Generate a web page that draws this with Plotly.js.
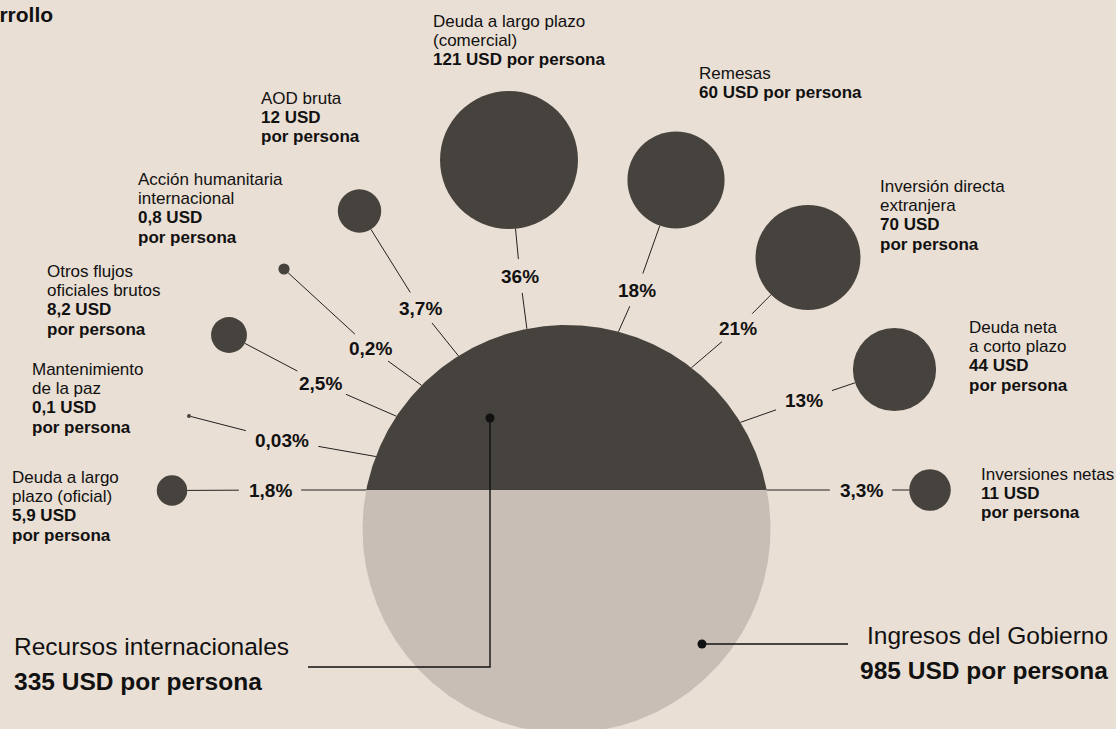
<!DOCTYPE html>
<html><head><meta charset="utf-8">
<script src="https://cdn.plot.ly/plotly-3.0.1.min.js"></script>
<style>html,body{margin:0;padding:0;background:#eadfd4;} #chart{width:1116px;height:729px;}</style>
</head><body><div id="chart"></div>
<script>
// ---------------- DATA ----------------
const flowNames = ['Deuda a largo|plazo (oficial)', 'Mantenimiento|de la paz', 'Otros flujos|oficiales brutos',
  'Acción humanitaria|internacional', 'AOD bruta', 'Deuda a largo plazo|(comercial)', 'Remesas',
  'Inversión directa|extranjera', 'Deuda neta|a corto plazo', 'Inversiones netas'];
const flowValues = [5.9, 0.1, 8.2, 0.8, 12, 121, 60, 70, 44, 11];          // USD por persona
const flowShares = ['1,8%', '0,03%', '2,5%', '0,2%', '3,7%', '36%', '18%', '21%', '13%', '3,3%'];
const totalNames = ['Recursos internacionales', 'Ingresos del Gobierno'];
const totalValues = [335, 985];                                             // USD por persona
const unitText = 'USD';
const perText = 'por persona';
const titleText = 'para el desarrollo';

// ---------------- LAYOUT / STYLE ----------------
const W = 1116, H = 729;
const FONT = '"Liberation Sans", Arial, sans-serif';
const BG = '#eadfd4', DARK = '#46423d', LIGHT = '#c9beb5', INK = '#111111', LINE = '#242120';
const satScale = 6.27;                      // px radius per sqrt(USD)
const bigScale = 5.615;                     // px radius per sqrt(USD) of big circle
const bigCenter = [566.5, 529];
const splitOffset = 39;
const hubs = [[566, 490], [548, 490]];
const placement = [
  {sat: [172, 490.5], pct: [270, 490], hub: 0, tx: 11,  ty: 483, wrap: true},
  {sat: [189, 416],   pct: [282, 440], hub: 0, tx: 31,  ty: 375, wrap: true},
  {sat: [229, 335],   pct: [320, 383], hub: 0, tx: 46,  ty: 277, wrap: true},
  {sat: [284, 269],   pct: [370, 348], hub: 0, tx: 137, ty: 185, wrap: true},
  {sat: [359.5, 211], pct: [420, 308], hub: 0, tx: 260, ty: 104, wrap: true},
  {sat: [509, 160],   pct: [520, 276], hub: 1, tx: 432, ty: 27,  wrap: false},
  {sat: [676, 180],   pct: [637, 290], hub: 1, tx: 698, ty: 79,  wrap: false},
  {sat: [808, 257.5], pct: [738, 328], hub: 1, tx: 879, ty: 192, wrap: true},
  {sat: [894.5, 369.5], pct: [804, 400], hub: 1, tx: 968, ty: 333, wrap: true},
  {sat: [930, 490],   pct: [861, 490], hub: 1, tx: 980, ty: 480, wrap: true}
];
const LBL = 17, PCT = 19, BIG = 24.5, LINEGAP = 19.4;
const recDot = [490, 418], recElbow = [667, 308];
const ingDot = [702, 644], ingEnd = 848;

// ---------------- HELPERS ----------------
const ctx = document.createElement('canvas').getContext('2d');
function textW(s, size, bold) { ctx.font = (bold ? 'bold ' : '') + size + 'px "Liberation Sans"'; return ctx.measureText(s).width; }
const fmt = v => String(v).replace('.', ',');
const unit = (a, b) => { const dx = b[0] - a[0], dy = b[1] - a[1], d = Math.hypot(dx, dy); return [dx / d, dy / d]; };
const baseY = (baseline, fs) => baseline - 0.347 * fs;

const R = bigScale * Math.sqrt(totalValues[0] + totalValues[1]);
const splitY = bigCenter[1] - splitOffset;

// big circle segments
function arc(t0, t1, n) {
  const xs = [], ys = [];
  for (let i = 0; i <= n; i++) {
    const t = t0 + (t1 - t0) * i / n;
    xs.push(bigCenter[0] + R * Math.cos(t)); ys.push(bigCenter[1] - R * Math.sin(t));
  }
  xs.push(xs[0]); ys.push(ys[0]);
  return {xs, ys};
}
const th0 = Math.asin(splitOffset / R);
const darkSeg = arc(th0, Math.PI - th0, 300);
const lightSeg = arc(Math.PI - th0, 2 * Math.PI + th0, 400);

const traces = [];
traces.push({x: lightSeg.xs, y: lightSeg.ys, mode: 'lines', fill: 'toself', fillcolor: LIGHT, line: {width: 0}, hoverinfo: 'skip'});
traces.push({x: darkSeg.xs, y: darkSeg.ys, mode: 'lines', fill: 'toself', fillcolor: DARK, line: {width: 0}, hoverinfo: 'skip'});

// connectors
const lx = [], ly = [];
placement.forEach((p, i) => {
  const L = p.pct, S = p.sat;
  const hw = textW(flowShares[i], PCT, true) / 2, hh = 7.5, pad = 9.5;
  const gapFor = u => Math.min(Math.abs(u[0]) > 1e-6 ? hw / Math.abs(u[0]) : 1e9, Math.abs(u[1]) > 1e-6 ? hh / Math.abs(u[1]) : 1e9) + pad;
  const rs = satScale * Math.sqrt(flowValues[i]);
  const u1 = unit(L, S), g1 = gapFor(u1), d1 = Math.hypot(S[0] - L[0], S[1] - L[1]);
  lx.push(L[0] + u1[0] * g1, L[0] + u1[0] * (d1 - rs), null);
  ly.push(L[1] + u1[1] * g1, L[1] + u1[1] * (d1 - rs), null);
  const u2 = unit(L, hubs[p.hub]), g2 = gapFor(u2);
  const ox = L[0] - bigCenter[0], oy = L[1] - bigCenter[1];
  const b = u2[0] * ox + u2[1] * oy, c = ox * ox + oy * oy - R * R;
  const t = -b - Math.sqrt(Math.max(0, b * b - c));
  lx.push(L[0] + u2[0] * g2, L[0] + u2[0] * t, null);
  ly.push(L[1] + u2[1] * g2, L[1] + u2[1] * t, null);
});
traces.push({x: lx, y: ly, mode: 'lines', line: {color: LINE, width: 1}, hoverinfo: 'skip'});

// satellites
traces.push({
  x: placement.map(p => p.sat[0]), y: placement.map(p => p.sat[1]), mode: 'markers',
  marker: {size: flowValues, sizemode: 'area', sizeref: 1 / (2 * satScale * satScale), sizemin: 0, color: DARK, opacity: 1, line: {width: 0}},
  hoverinfo: 'skip'
});

// callouts for totals
traces.push({x: [recDot[0], recDot[0], recElbow[1]], y: [recDot[1], recElbow[0], recElbow[0]], mode: 'lines', line: {color: INK, width: 1.4}, hoverinfo: 'skip'});
traces.push({x: [ingDot[0], ingEnd], y: [ingDot[1], ingDot[1]], mode: 'lines', line: {color: INK, width: 1.4}, hoverinfo: 'skip'});
traces.push({x: [recDot[0], ingDot[0]], y: [recDot[1], ingDot[1]], mode: 'markers', marker: {size: 9, color: INK, opacity: 1}, hoverinfo: 'skip'});

// annotations
const ann = [];
function addText(text, x, baseline, fs, bold, anchor) {
  ann.push({x, y: baseY(baseline, fs), xref: 'x', yref: 'y', text: bold ? '<b>' + text + '</b>' : text, showarrow: false,
    xanchor: anchor || 'left', yanchor: 'middle', borderpad: 0, font: {family: FONT, size: fs, color: INK}});
}
placement.forEach((p, i) => {
  const lines = flowNames[i].split('|');
  const vl = fmt(flowValues[i]) + ' ' + unitText;
  const bl = p.wrap ? [vl, perText] : [vl + ' ' + perText];
  let y = p.ty;
  lines.forEach(s => { addText(s, p.tx, y, LBL, false); y += LINEGAP; });
  bl.forEach(s => { addText(s, p.tx, y, LBL, true); y += LINEGAP; });
  ann.push({x: p.pct[0], y: p.pct[1], xref: 'x', yref: 'y', text: '<b>' + flowShares[i] + '</b>', showarrow: false,
    xanchor: 'center', yanchor: 'middle', borderpad: 0, font: {family: FONT, size: PCT, color: INK}});
});
addText(totalNames[0], 13, 655, BIG, false);
addText(totalValues[0] + ' ' + unitText + ' ' + perText, 13, 690, BIG, true);
addText(totalNames[1], 1109, 644, BIG, false, 'right');
addText(totalValues[1] + ' ' + unitText + ' ' + perText, 1109, 679, BIG, true, 'right');
addText(titleText, 54, 21.7, 21, true, 'right');

const layout = {
  width: W, height: H, margin: {l: 0, r: 0, t: 0, b: 0, pad: 0},
  paper_bgcolor: BG, plot_bgcolor: BG, showlegend: false,
  xaxis: {range: [0, W], visible: false, fixedrange: true},
  yaxis: {range: [H, 0], visible: false, fixedrange: true},
  annotations: ann, font: {family: FONT}
};
Plotly.newPlot('chart', traces, layout, {displayModeBar: false, staticPlot: true});
</script></body></html>
